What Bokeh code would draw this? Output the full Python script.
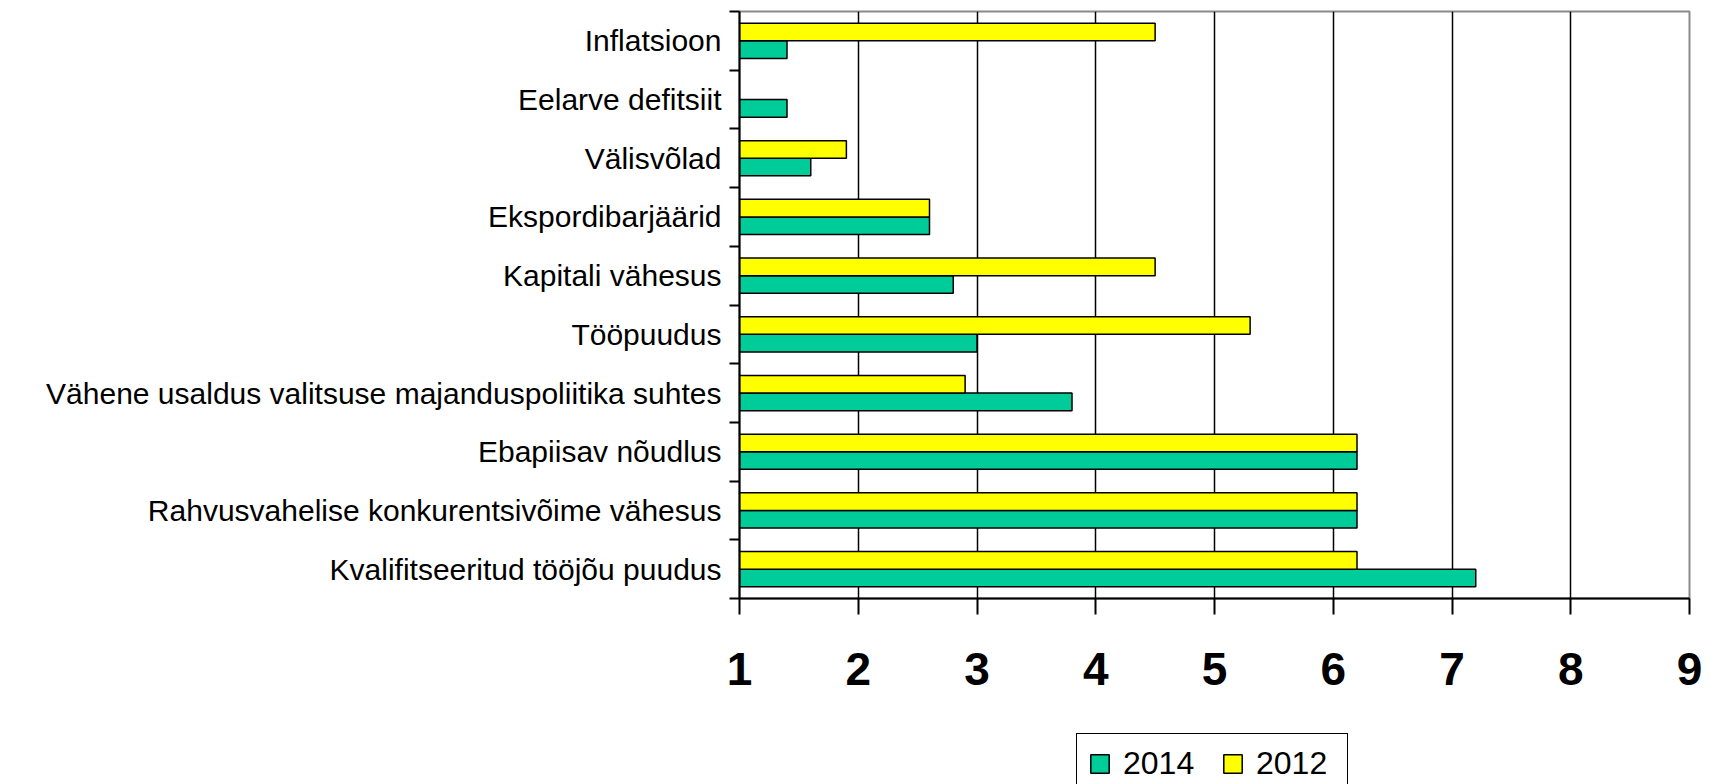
from bokeh.plotting import figure
from bokeh.models import Range1d, FixedTicker, Legend, LegendItem, ColumnDataSource
from bokeh.layouts import column
from bokeh.embed import file_html
from bokeh.resources import INLINE

categories = [
    "Inflatsioon",
    "Eelarve defitsiit",
    "Välisvõlad",
    "Ekspordibarjäärid",
    "Kapitali vähesus",
    "Tööpuudus",
    "Vähene usaldus valitsuse majanduspoliitika suhtes",
    "Ebapiisav nõudlus",
    "Rahvusvahelise konkurentsivõime vähesus",
    "Kvalifitseeritud tööjõu puudus",
]
values_2014 = [1.4, 1.4, 1.6, 2.6, 2.8, 3.0, 3.8, 6.2, 6.2, 7.2]
values_2012 = [4.5, None, 1.9, 2.6, 4.5, 5.3, 2.9, 6.2, 6.2, 6.2]
series_names = ["2014", "2012"]
x_ticks = [1, 2, 3, 4, 5, 6, 7, 8, 9]

GREEN = "#00CC99"
YELLOW = "#FFFF00"

n = len(categories)
centers = [n - 0.5 - i for i in range(n)]

src14 = ColumnDataSource(dict(
    y=[c - 0.15 for c in centers],
    right=values_2014,
))
y12, r12 = [], []
for c, v in zip(centers, values_2012):
    if v is not None:
        y12.append(c + 0.15)
        r12.append(v)
src12 = ColumnDataSource(dict(y=y12, right=r12))

p = figure(
    width=1711, height=733,
    x_range=Range1d(1, 9), y_range=Range1d(0, n),
    output_backend="svg", toolbar_location=None,
    min_border_left=739, min_border_right=22,
    min_border_top=11, min_border_bottom=135,
)
p.frame_align = False
p.background_fill_color = "white"
p.border_fill_color = "white"
p.outline_line_color = "#8a8a8a"
p.outline_line_width = 2

p.hbar(y="y", right="right", left=1, height=0.3, source=src14,
       fill_color=GREEN, line_color="black", line_width=1.5)
p.hbar(y="y", right="right", left=1, height=0.3, source=src12,
       fill_color=YELLOW, line_color="black", line_width=1.5)

# x axis
xa = p.xaxis[0]
xa.ticker = FixedTicker(ticks=x_ticks)
xa.major_tick_out = 16
xa.major_tick_in = 0
xa.minor_tick_out = 0
xa.minor_tick_in = 0
xa.axis_line_width = 2
xa.axis_line_color = "black"
xa.major_tick_line_color = "black"
xa.major_tick_line_width = 2
xa.major_label_text_font = "Liberation Sans"
xa.major_label_text_font_style = "bold"
xa.major_label_text_font_size = "46px"
xa.major_label_text_color = "black"
xa.major_label_standoff = 38

# y axis
ya = p.yaxis[0]
ya.ticker = FixedTicker(ticks=centers, minor_ticks=list(range(0, n + 1)))
ya.major_label_overrides = {c: lab for c, lab in zip(centers, categories)}
ya.major_tick_out = 0
ya.major_tick_in = 0
ya.minor_tick_out = 10
ya.minor_tick_in = 0
ya.minor_tick_line_color = "black"
ya.minor_tick_line_width = 2
ya.axis_line_width = 2
ya.axis_line_color = "black"
ya.major_label_text_font = "Liberation Sans"
ya.major_label_text_font_size = "30px"
ya.major_label_text_color = "black"
ya.major_label_standoff = 8

# grid
p.ygrid.visible = False
p.xgrid.ticker = FixedTicker(ticks=x_ticks[1:-1])
p.xgrid.grid_line_color = "black"
p.xgrid.grid_line_width = 1.5

# legend strip below the chart
lf = figure(
    width=1711, height=51,
    x_range=Range1d(0, 1), y_range=Range1d(0, 1),
    output_backend="svg", toolbar_location=None,
    x_axis_location=None, y_axis_location=None,
    min_border_left=1076, min_border_right=0,
    min_border_top=0, min_border_bottom=0,
)
lf.frame_align = False
lf.outline_line_color = None
lf.background_fill_color = "white"
lf.border_fill_color = "white"
lf.xgrid.visible = False
lf.ygrid.visible = False
# swatch renderers hidden underneath the opaque legend box
sw = ColumnDataSource(dict(y=[0.5], right=[0.15]))
lr14 = lf.hbar(y="y", right="right", left=0.05, height=0.2, source=sw,
               fill_color=GREEN, line_color="black", line_width=1.5)
lr12 = lf.hbar(y="y", right="right", left=0.05, height=0.2, source=sw,
               fill_color=YELLOW, line_color="black", line_width=1.5)

legend = Legend(
    items=[LegendItem(label=series_names[0], renderers=[lr14]),
           LegendItem(label=series_names[1], renderers=[lr12])],
    orientation="horizontal",
    location="top_left",
    glyph_width=23, glyph_height=23,
    label_standoff=12, spacing=18, padding=11, label_width=80,
    label_text_font="Liberation Sans", label_text_font_size="32px",
    label_text_color="black",
    border_line_color="black", border_line_width=1.5, border_line_alpha=1.0,
    background_fill_color="white", background_fill_alpha=1,
    margin=0,
)
lf.add_layout(legend, "center")

layout = column(p, lf, spacing=0)
open("out.html", "w").write(file_html(layout, INLINE))
